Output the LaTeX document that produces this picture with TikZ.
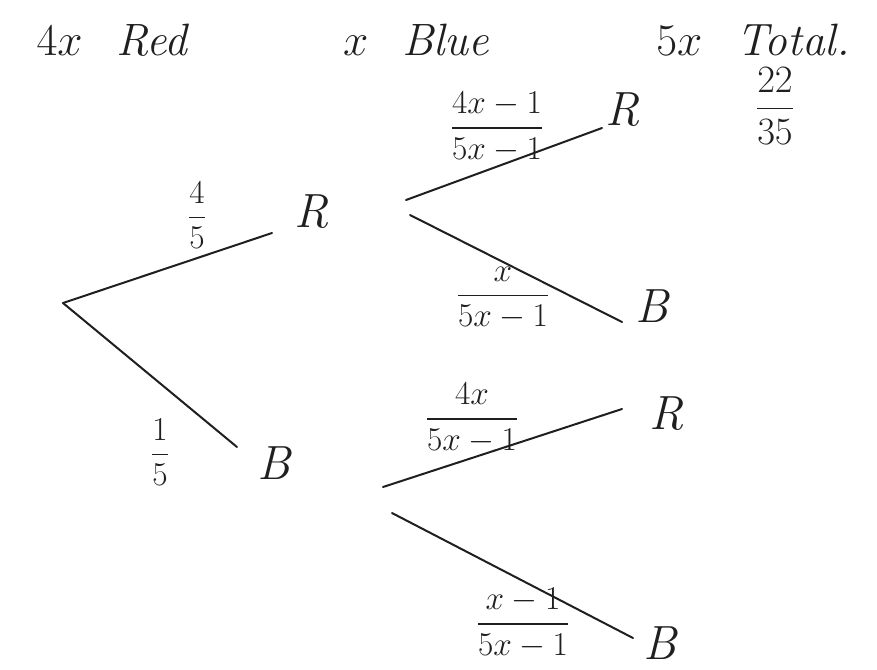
\RequirePackage{fix-cm}
\documentclass[tikz,border=0pt]{standalone}
\usepackage{amsmath,amssymb}
\usepackage{xcolor}
\usepackage{tikz}
\usetikzlibrary{positioning}
\definecolor{ink}{gray}{0.12}
\tikzset{
  branch/.style={line width=1.5pt, line cap=round, ink},
  outcome/.style={inner sep=0pt, text=ink, font=\fontsize{36}{40}\selectfont\itshape},
  prob/.style={inner sep=0pt, text=ink, font=\fontsize{25}{29}\selectfont},
  heading/.style={inner sep=0pt, text=ink, font=\fontsize{34}{38}\selectfont\itshape},
  every node/.style={font=\small}
}

\begin{document}
\begin{tikzpicture}[x=0.75pt, y=-0.75pt]
    \useasboundingbox (0,0) rectangle (877,669);

    % heading
    \node[heading] (red) at (112,40) {$4x$\hspace{0.75em}Red};
    \node[heading] (blue) at (416,40) {$x$\hspace{0.75em}Blue};
    \node[heading] (total) at (753,40) {$5x$\hspace{0.75em}Total.};

    % first draw
    \coordinate (root) at (63,303);
    \coordinate (r1end) at (272,233);
    \coordinate (b1end) at (237,447);
    \node[outcome] (r1) at (312,212) {R};
    \node[outcome] (b1) at (274,463) {B};
    \node[prob] (p45) at (197,215) {$\dfrac{4}{5}$};
    \node[prob] (p15) at (160,452) {$\dfrac{1}{5}$};
    \draw[branch] (root) -- (r1end);
    \draw[branch] (root) -- (b1end);

    % second draw after red
    \coordinate (r1up) at (406,200);
    \coordinate (r1dn) at (410,215);
    \coordinate (rrend) at (602,128);
    \coordinate (rbend) at (622,322);
    \node[outcome] (rr) at (623,110) {R};
    \node[outcome] (rb) at (652,306) {B};
    \node[prob] (prr) at (497,127) {$\dfrac{4x-1}{5x-1}$};
    \node[prob] (prb) at (503,298) {$\dfrac{x}{5x-1}$};
    \node[prob, font=\fontsize{29}{33}\selectfont] (ans) at (775,106) {$\dfrac{22}{35}$};
    \draw[branch] (r1up) -- (rrend);
    \draw[branch] (r1dn) -- (rbend);

    % second draw after blue
    \coordinate (b1up) at (383,487);
    \coordinate (b1dn) at (392,513);
    \coordinate (brend) at (622,409);
    \coordinate (bbend) at (633,638);
    \node[outcome] (br) at (667,414) {R};
    \node[outcome] (bb) at (660,643) {B};
    \node[prob] (pbr) at (472,418) {$\dfrac{4x}{5x-1}$};
    \node[prob] (pbb) at (523,623) {$\dfrac{x-1}{5x-1}$};
    \draw[branch] (b1up) -- (brend);
    \draw[branch] (b1dn) -- (bbend);
\end{tikzpicture}
\end{document}
